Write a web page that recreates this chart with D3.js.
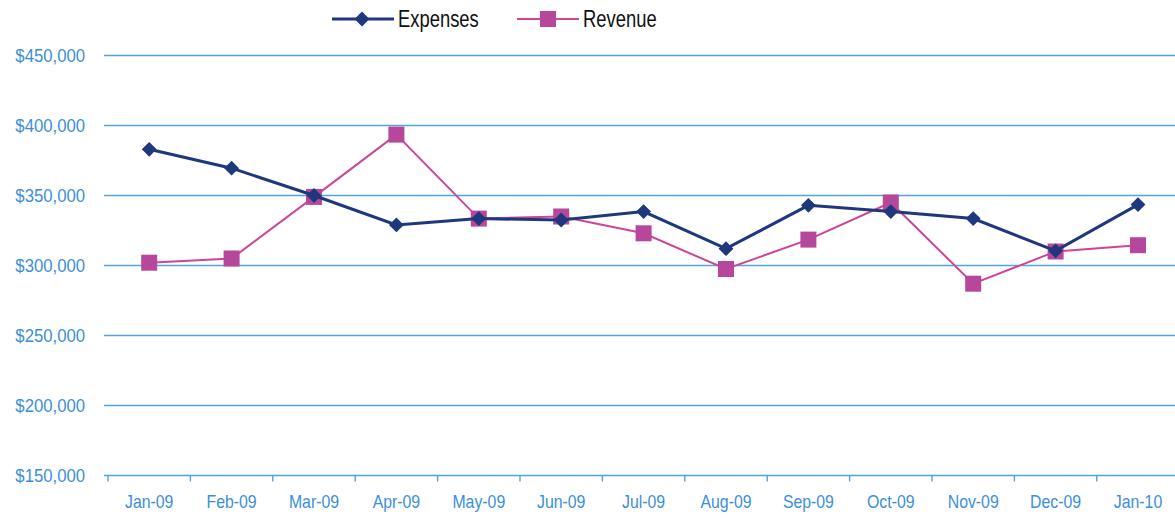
<!DOCTYPE html>
<html>
<head>
<meta charset="utf-8">
<script src="https://cdn.jsdelivr.net/npm/d3@7"></script>
<style>
  body { margin: 0; background: #fff; }
  svg { display: block; }
</style>
</head>
<body>
<div class="display__svg"></div>
<script>
// chart data
const months = ["Jan-09", "Feb-09", "Mar-09", "Apr-09", "May-09", "Jun-09", "Jul-09",
  "Aug-09", "Sep-09", "Oct-09", "Nov-09", "Dec-09", "Jan-10"];
const expenses = [383000, 369500, 350000, 329000, 333500, 332500, 338500,
  312000, 343000, 338500, 333500, 310500, 343500];
const revenue = [302000, 305000, 349000, 393500, 333500, 335000, 323000,
  297500, 318500, 345000, 287000, 310000, 314500];
const yTicks = [150000, 200000, 250000, 300000, 350000, 400000, 450000];
const seriesNames = ["Expenses", "Revenue"];

const width = 1175, height = 518;
const fontFamily = "'Liberation Sans', Arial, sans-serif";

const svg = d3.select(".display__svg")
  .append("svg")
  .attr("width", width)
  .attr("height", height);

//scales - band runs past the right edge like the cropped original
const xScale = d3.scaleBand()
  .domain(months)
  .range([108, 108 + 13 * 82.4]);

const yScale = d3.scaleLinear()
  .domain([150000, 450000])
  .range([475.5, 55.5]);

const gridColor = "#4fa3e3";
const textColor = "#3b8fda";
const expColor = "#1f377c";
const revLine = "#cf4596";
const revMark = "#b6479a";

//horizontal grid lines
svg.append("g")
  .selectAll("line")
  .data(yTicks.filter(d => d > 150000))
  .enter()
  .append("line")
  .attr("x1", 104)
  .attr("x2", width)
  .attr("y1", d => yScale(d))
  .attr("y2", d => yScale(d))
  .attr("stroke", gridColor)
  .attr("stroke-width", 1.5);

//y axis labels
const yaxis = d3.axisLeft(yScale)
  .tickValues(yTicks)
  .tickFormat(d => "$" + d3.format(",")(d))
  .tickSize(0)
  .tickPadding(0);

const yaxisgroup = svg.append("g")
  .attr("transform", "translate(85,0)")
  .call(yaxis);
yaxisgroup.select(".domain").remove();
yaxisgroup.selectAll("text")
  .attr("fill", textColor)
  .attr("transform", "scale(0.88,1)")
  .style("font-family", fontFamily)
  .style("font-size", "19px");

//x axis
const xaxis = d3.axisBottom(xScale).tickSize(0).tickPadding(20);
const xaxisgroup = svg.append("g")
  .attr("transform", `translate(0,${yScale(150000)})`)
  .call(xaxis);
xaxisgroup.select(".domain")
  .attr("d", `M104,0H${width}`)
  .attr("stroke", gridColor)
  .attr("stroke-width", 1.5);
xaxisgroup.selectAll("text")
  .attr("fill", textColor)
  .attr("transform", "scale(0.88,1)")
  .style("font-family", fontFamily)
  .style("font-size", "18px");

//tick marks on band boundaries
xaxisgroup.selectAll(".bound")
  .data(months)
  .enter()
  .append("line")
  .attr("class", "bound")
  .attr("x1", d => xScale(d))
  .attr("x2", d => xScale(d))
  .attr("y1", 0)
  .attr("y2", 6)
  .attr("stroke", gridColor)
  .attr("stroke-width", 1.4);

const cx = (d, i) => xScale(months[i]) + xScale.bandwidth() / 2;

const line = d3.line()
  .x((d, i) => cx(d, i))
  .y(d => yScale(d));

//revenue line and squares
svg.append("path")
  .datum(revenue)
  .attr("d", line)
  .attr("fill", "none")
  .attr("stroke", revLine)
  .attr("stroke-width", 2);

svg.append("g")
  .selectAll("rect")
  .data(revenue)
  .enter()
  .append("rect")
  .attr("x", (d, i) => cx(d, i) - 8)
  .attr("y", d => yScale(d) - 8)
  .attr("width", 16)
  .attr("height", 16)
  .attr("fill", revMark);

//expenses line and diamonds
svg.append("path")
  .datum(expenses)
  .attr("d", line)
  .attr("fill", "none")
  .attr("stroke", expColor)
  .attr("stroke-width", 3);

const diamond = d3.symbol().type(d3.symbolSquare).size(110);
svg.append("g")
  .selectAll("path")
  .data(expenses)
  .enter()
  .append("path")
  .attr("d", diamond)
  .attr("transform", (d, i) => `translate(${cx(d, i)},${yScale(d)}) rotate(45)`)
  .attr("fill", expColor);

//legend
const legend = svg.append("g").attr("class", "legend");
const legendItems = [
  { name: seriesNames[0], x: 332, color: expColor, sw: 3 },
  { name: seriesNames[1], x: 517, color: revLine, sw: 2 }
];
legendItems.forEach((item, i) => {
  const g = legend.append("g").attr("transform", `translate(${item.x},19)`);
  g.append("line")
    .attr("x1", 0).attr("x2", 62)
    .attr("stroke", item.color)
    .attr("stroke-width", item.sw);
  if (i === 0) {
    g.append("path")
      .attr("d", diamond)
      .attr("transform", "translate(30,0) rotate(45)")
      .attr("fill", expColor);
  } else {
    g.append("rect")
      .attr("x", 23).attr("y", -8)
      .attr("width", 16).attr("height", 16)
      .attr("fill", revMark);
  }
  g.append("text")
    .attr("transform", "translate(66,8) scale(0.8,1)")
    .style("font-family", fontFamily)
    .style("font-size", "23px")
    .attr("fill", "#111")
    .text(item.name);
});
</script>
</body>
</html>
